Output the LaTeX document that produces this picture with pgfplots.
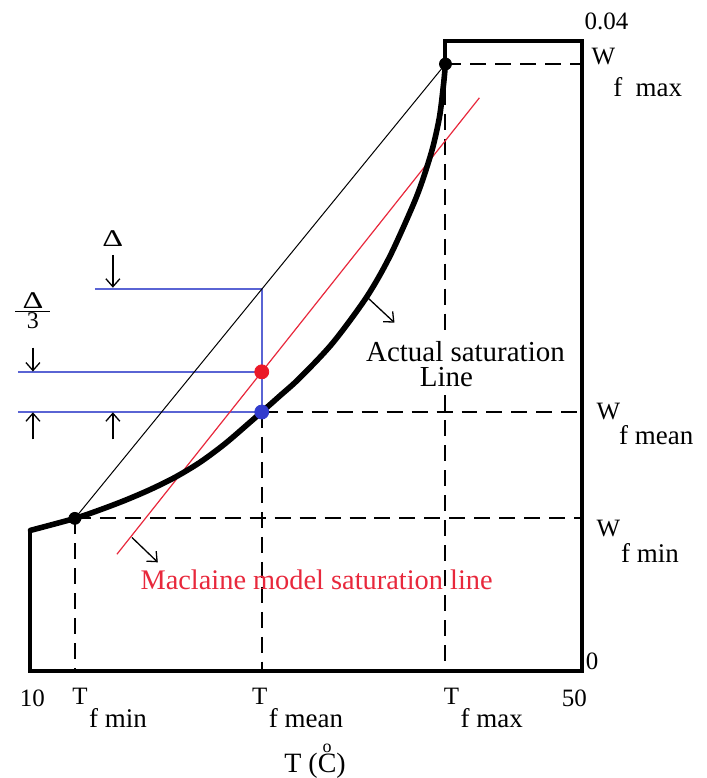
\documentclass[border=0pt]{standalone}
\usepackage{fontspec}
\setmainfont{Liberation Serif}
\usepackage{graphicx}
\usepackage{pgfplots}
\pgfplotsset{compat=1.18}
\usetikzlibrary{arrows.meta}
\definecolor{bl}{RGB}{90,100,212}
\definecolor{bdot}{RGB}{50,60,205}
\definecolor{rline}{RGB}{232,40,60}
\definecolor{rdot}{RGB}{235,25,40}
\newcommand{\lab}[4]{{\fontsize{12.5}{12.5}\selectfont #1}\kern#4\raisebox{-#3}{\fontsize{13.5}{13.5}\selectfont #2}}
\newcommand{\Dlt}{\scalebox{1.35}[1]{Δ}}
\begin{document}
\begin{tikzpicture}
\begin{axis}[
  scale only axis, width=276pt, height=315.5pt,
  xmin=10, xmax=50, ymin=0, ymax=0.04,
  hide axis, clip=false,
  arr/.style={black, line width=0.65pt, -{Straight Barb[length=4pt,width=7pt]}},
  dsh/.style={black, line width=1pt, dash pattern=on 8pt off 4.5pt},
]
% picture extent
\addplot[draw=none, forget plot] coordinates {(7.79,-0.00672) (59.02,0.04260)};
% dashed guide lines
\addplot[dsh] coordinates {(40.11,0.03854) (50,0.03854)};
\addplot[dsh] coordinates {(40.11,0.03854) (40.11,0.02130)};
\addplot[dsh] coordinates {(40.11,0.01750) (40.11,0)};
\addplot[dsh] coordinates {(26.78,0.01645) (50,0.01645)};
\addplot[dsh] coordinates {(26.78,0.01645) (26.78,0)};
\addplot[dsh] coordinates {(13.22,0.00970) (50,0.00970)};
\addplot[dsh] coordinates {(13.22,0.00970) (13.22,0)};
% blue construction lines
\addplot[bl, line width=0.8pt] coordinates {(14.67,0.02424) (26.78,0.02424) (26.78,0.01645)};
\addplot[bl, line width=0.8pt] coordinates {(9.09,0.01900) (26.78,0.01900)};
\addplot[bl, line width=0.8pt] coordinates {(9.09,0.01645) (26.78,0.01645)};
% chord
\addplot[black, line width=0.5pt] coordinates {(13.22,0.00970) (40.11,0.03854)};
% Maclaine model line
\addplot[rline, line width=0.6pt] coordinates {(16.27,0.00742) (42.57,0.03639)};
% actual saturation curve
\addplot[black, line width=2.8pt, smooth, tension=0.5, line cap=round] coordinates {
(10,0.008938) (13.225,0.009699) (15.036,0.010238) (16.848,0.010840) (18.659,0.011518)
(20.471,0.012298) (22.283,0.013249) (24.094,0.014422) (25.906,0.015785) (26.775,0.016450)
(28.080,0.017464) (29.529,0.018605) (31.920,0.020824) (34.384,0.023740) (36.051,0.026288)
(37.717,0.029496) (38.442,0.031144) (39.167,0.033173) (39.674,0.035170) (39.964,0.037198)
(40.109,0.038542)};
% frame
\addplot[black, line width=2pt, line join=miter] coordinates {
(40.11,0.03854) (40.11,0.04) (50,0.04) (50,0) (10,0) (10,0.008938)};
% dots
\addplot[only marks, mark=*, mark size=3pt, black] coordinates {(13.22,0.00970) (40.11,0.03854)};
\addplot[only marks, mark=*, mark size=3.5pt, rdot, mark options={draw=rdot,fill=rdot}] coordinates {(26.78,0.01900)};
\addplot[only marks, mark=*, mark size=3.5pt, bdot, mark options={draw=bdot,fill=bdot}] coordinates {(26.78,0.01645)};
% arrows
\addplot[arr] coordinates {(15.98,0.02643) (15.98,0.02434)};
\addplot[arr] coordinates {(10.18,0.02054) (10.18,0.01902)};
\addplot[arr] coordinates {(10.18,0.01471) (10.18,0.01643)};
\addplot[arr] coordinates {(15.98,0.01471) (15.98,0.01643)};
\addplot[arr] coordinates {(34.46,0.02371) (36.41,0.02212)};
\addplot[arr] coordinates {(17.36,0.00849) (19.24,0.00691)};
% texts
\node[anchor=base, inner sep=0, font=\fontsize{12}{12}\selectfont] at (axis cs:15.98,0.02694) {\Dlt};
\node[anchor=base, inner sep=0, font=\fontsize{12}{12}\selectfont] at (axis cs:10.18,0.02244)
  {$\frac{\hbox to 17.5pt{\hss\Dlt\hss}}{\hbox{3}}$};
\node[anchor=base, inner sep=0, font=\fontsize{14.5}{14.5}\selectfont] at (axis cs:41.56,0.01965) {Actual saturation};
\node[anchor=base, inner sep=0, font=\fontsize{14.5}{14.5}\selectfont] at (axis cs:40.18,0.01805) {Line};
\node[anchor=base, inner sep=0, text=rline, font=\fontsize{14.2}{14.2}\selectfont] at (axis cs:30.76,0.00520) {Maclaine model saturation line};
% axis numbers
\node[anchor=base, inner sep=0, font=\fontsize{12.5}{12.5}\selectfont] at (axis cs:10.14,-0.00222) {10};
\node[anchor=base, inner sep=0, font=\fontsize{12.5}{12.5}\selectfont] at (axis cs:49.46,-0.00222) {50};
\node[anchor=base west, inner sep=0, font=\fontsize{12.5}{12.5}\selectfont] at (axis cs:50.26,0.00013) {0};
\node[anchor=base west, inner sep=0, font=\fontsize{12.5}{12.5}\selectfont] at (axis cs:50.18,0.04070) {0.04};
% T labels
\node[anchor=base west, inner sep=0] at (axis cs:13.01,-0.00209) {\lab{T}{f min}{11.5pt}{0.8pt}};
\node[anchor=base west, inner sep=0] at (axis cs:26.05,-0.00209) {\lab{T}{f mean}{11.5pt}{0.8pt}};
\node[anchor=base west, inner sep=0] at (axis cs:39.96,-0.00209) {\lab{T}{f max}{11.5pt}{0.8pt}};
% W labels
\node[anchor=base west, inner sep=0] at (axis cs:50.69,0.03848) {\lab{W}{f\hspace{0.5em}max}{16pt}{-1pt}};
\node[anchor=base west, inner sep=0] at (axis cs:51.05,0.01597) {\lab{W}{f mean}{12.5pt}{-0.5pt}};
\node[anchor=base west, inner sep=0] at (axis cs:51.05,0.00856) {\lab{W}{f min}{13pt}{0.5pt}};
% x title
\node[anchor=base, inner sep=0, font=\fontsize{14}{14}\selectfont] at (axis cs:30.65,-0.00640)
  {T (\makebox[0pt][l]{\hspace{0.17em}\raisebox{9.6pt}{\fontsize{9}{9}\selectfont o}}C)};
\end{axis}
\end{tikzpicture}
\end{document}
